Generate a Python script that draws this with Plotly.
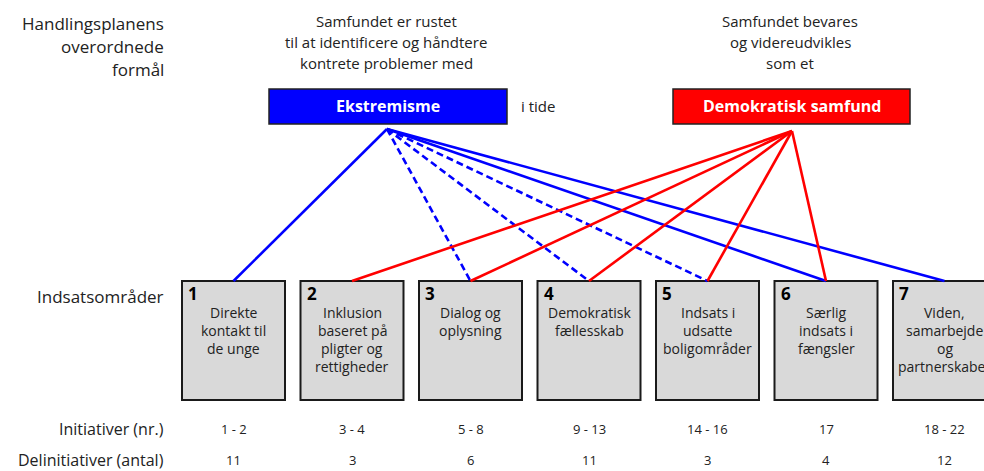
import plotly.graph_objects as go

# ---------------- data ----------------
area_numbers = ["1", "2", "3", "4", "5", "6", "7"]
area_titles = [
    ["Direkte", "kontakt til", "de unge"],
    ["Inklusion", "baseret på", "pligter og", "rettigheder"],
    ["Dialog og", "oplysning"],
    ["Demokratisk", "fællesskab"],
    ["Indsats i", "udsatte", "boligområder"],
    ["Særlig", "indsats i", "fængsler"],
    ["Viden,", "samarbejde", "og", "partnerskaber"],
]
initiatives = ["1 - 2", "3 - 4", "5 - 8", "9 - 13", "14 - 16", "17", "18 - 22"]
sub_initiatives = ["11", "3", "6", "11", "3", "4", "12"]

purpose_blue_label = "Ekstremisme"
purpose_blue_text = ["Samfundet er rustet", "til at identificere og håndtere", "kontrete problemer med"]
purpose_blue_suffix = "i tide"
purpose_red_label = "Demokratisk samfund"
purpose_red_text = ["Samfundet bevares", "og videreudvikles", "som et"]

# links: area index -> style
blue_links = {0: "solid", 2: "dash", 3: "dash", 4: "dash", 5: "solid", 6: "solid"}
red_links = [1, 2, 3, 4, 5]

row_labels_left = ["Handlingsplanens", "overordnede", "formål"]
row_label_areas = "Indsatsområder"
row_label_init = "Initiativer (nr.)"
row_label_sub = "Delinitiativer (antal)"

# ---------------- layout constants ----------------
W, H = 984, 471
FONT = "Open Sans"
BOX_X0 = 182
BOX_STEP = 118.5
BOX_W = 103
BOX_TOP, BOX_BOT = 281, 400
BLUE_APEX = (387, 129)
RED_APEX = (792, 131)
BLUE = "#0000ff"
RED = "#ff0000"

fig = go.Figure()
shapes = []
annotations = []

def ann(x, y, text, size=14, anchor="center", color="#222", bold=False):
    if bold:
        text = f"<b>{text}</b>"
    annotations.append(dict(x=x, y=y, xref="x", yref="y", text=text, showarrow=False,
                            xanchor=anchor, yanchor="middle",
                            font=dict(family=FONT, size=size, color=color)))

centers = [BOX_X0 + i * BOX_STEP + BOX_W / 2 for i in range(len(area_numbers))]

# boxes
for i, num in enumerate(area_numbers):
    x0 = BOX_X0 + i * BOX_STEP
    shapes.append(dict(type="rect", xref="x", yref="y", x0=x0, x1=x0 + BOX_W, y0=BOX_TOP, y1=BOX_BOT,
                       fillcolor="#d9d9d9", line=dict(color="#1a1a1a", width=2), layer="below"))
    ann(x0 + 4, 293, num, size=17, anchor="left", color="#000", bold=True)
    for j, line in enumerate(area_titles[i]):
        ann(centers[i], 312 + j * 18, line, size=14)
    ann(centers[i], 429, initiatives[i], size=13)
    ann(centers[i], 460, sub_initiatives[i], size=13)

# links (blue)
for idx, style in blue_links.items():
    fig.add_trace(go.Scatter(x=[BLUE_APEX[0], centers[idx]], y=[BLUE_APEX[1], BOX_TOP],
                             mode="lines", line=dict(color=BLUE, width=2.6,
                                                     dash="solid" if style == "solid" else "7px,4px"),
                             hoverinfo="skip", showlegend=False))
# links (red)
for idx in red_links:
    fig.add_trace(go.Scatter(x=[RED_APEX[0], centers[idx]], y=[RED_APEX[1], BOX_TOP],
                             mode="lines", line=dict(color=RED, width=2.6),
                             hoverinfo="skip", showlegend=False))

# purpose boxes
shapes.append(dict(type="rect", xref="x", yref="y", x0=269, x1=507, y0=89, y1=124,
                   fillcolor=BLUE, line=dict(color="#222", width=1.5)))
shapes.append(dict(type="rect", xref="x", yref="y", x0=673, x1=910, y0=89, y1=124,
                   fillcolor=RED, line=dict(color="#222", width=1.5)))
ann(388, 106, purpose_blue_label, size=16, color="white", bold=True)
ann(791.5, 106, purpose_red_label, size=16, color="white", bold=True)
ann(519, 106, purpose_blue_suffix, size=15, anchor="left")

for j, line in enumerate(purpose_blue_text):
    ann(386, 21 + j * 21, line, size=15)
for j, line in enumerate(purpose_red_text):
    ann(790, 21 + j * 21, line, size=15)

# left labels
for j, line in enumerate(row_labels_left):
    ann(166, 23 + j * 23, line, size=17, anchor="right")
ann(166, 296, row_label_areas, size=17, anchor="right")
ann(166, 429, row_label_init, size=16, anchor="right")
ann(166, 460, row_label_sub, size=16, anchor="right")

fig.update_layout(
    width=W, height=H, margin=dict(l=0, r=0, t=0, b=0),
    paper_bgcolor="white", plot_bgcolor="white",
    xaxis=dict(range=[0, W], visible=False, fixedrange=True),
    yaxis=dict(range=[H, 0], visible=False, fixedrange=True),
    shapes=shapes, annotations=annotations, showlegend=False,
)
fig.write_html("out.html", config={"displayModeBar": False},
               post_script="document.body.style.margin='0';document.body.style.overflow='hidden';")
